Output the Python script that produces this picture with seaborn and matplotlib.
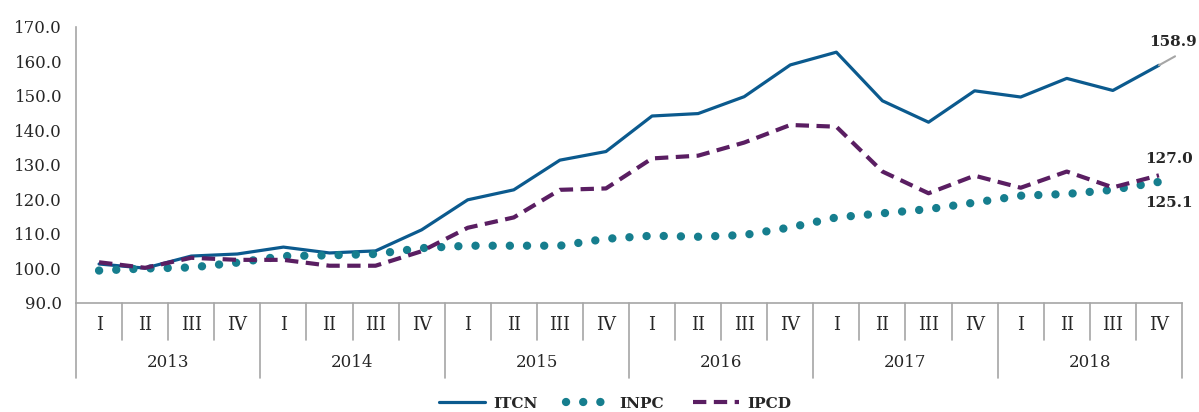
import numpy as np
import matplotlib
matplotlib.use("Agg")
import matplotlib.pyplot as plt
import matplotlib.transforms as mtransforms
import seaborn as sns
import pandas as pd

# datos trimestrales 2013-2018
anios = ["2013", "2014", "2015", "2016", "2017", "2018"]
trimestres = ["I", "II", "III", "IV"]

itcn = [101.3, 100.1, 103.6, 104.2, 106.2, 104.5, 105.1, 111.2,
        119.9, 122.8, 131.4, 133.9, 144.2, 144.9, 149.8, 159.0,
        162.7, 148.6, 142.4, 151.5, 149.7, 155.1, 151.6, 158.9]
inpc = [99.4, 100.0, 100.3, 101.7, 103.6, 103.8, 104.2, 105.9,
        106.6, 106.6, 106.6, 108.6, 109.5, 109.2, 109.7, 111.9,
        114.8, 116.0, 117.2, 119.1, 121.1, 121.6, 122.8, 125.1]
ipcd = [101.8, 100.2, 103.1, 102.5, 102.5, 100.8, 100.8, 105.0,
        111.8, 114.8, 122.8, 123.2, 131.9, 132.7, 136.5, 141.6,
        141.1, 128.1, 121.8, 126.9, 123.4, 128.1, 123.5, 127.0]

n = len(itcn)
df = pd.DataFrame({"pos": np.arange(n), "ITCN": itcn, "INPC": inpc, "IPCD": ipcd})

sns.set_style("white")
plt.rcParams["font.family"] = ["DejaVu Serif"]

c_itcn = "#0B5A8E"
c_inpc = "#167E8E"
c_ipcd = "#5A1E62"
gris = "#A6A6A6"

fig = plt.figure(figsize=(11.99, 4.12), dpi=100)
ax = fig.add_axes([0.0634, 0.2646, 0.9224, 0.6699])

sns.lineplot(data=df, x="pos", y="ITCN", ax=ax, color=c_itcn, lw=2.3, label="ITCN")
sns.lineplot(data=df, x="pos", y="INPC", ax=ax, color=c_inpc, lw=6.0, label="INPC",
             linestyle=(0, (0.01, 2.05)), dash_capstyle="round")
sns.lineplot(data=df, x="pos", y="IPCD", ax=ax, color=c_ipcd, lw=3.0, label="IPCD",
             linestyle=(0, (3.2, 1.8)))

ax.set_xlim(-0.5, n - 0.5)
ax.set_ylim(90, 170)
ax.set_yticks(np.arange(90, 171, 10))
ax.set_yticklabels([f"{v:.1f}" for v in np.arange(90, 171, 10)], fontsize=12)
ax.tick_params(axis="y", length=7, color=gris, width=1, pad=3)
ax.set_xticks([])
ax.set_xlabel("")
ax.set_ylabel("")
for s in ["top", "right"]:
    ax.spines[s].set_visible(False)
for s in ["left", "bottom"]:
    ax.spines[s].set_color(gris)
    ax.spines[s].set_linewidth(1.2)

# eje de categorias en dos niveles
trans = mtransforms.blended_transform_factory(ax.transData, ax.transAxes)
for k in range(n + 1):
    x = k - 0.5
    y0 = -0.272 if k % 4 == 0 else -0.134
    ax.plot([x, x], [0, y0], color=gris, lw=1.2, transform=trans, clip_on=False)
for i in range(n):
    ax.text(i, -0.08, trimestres[i % 4], transform=trans, ha="center", va="center",
            fontsize=13)
for j, a in enumerate(anios):
    ax.text(4 * j + 1.5, -0.214, a, transform=trans, ha="center", va="center",
            fontsize=12)

# etiquetas de los ultimos valores
ax.plot([n - 1, n - 0.65], [itcn[-1], itcn[-1] + 2.6], color=gris, lw=1.5)
ax.text(n - 0.17, 165.6, f"{itcn[-1]:.1f}", fontsize=11, fontweight="bold",
        ha="right", va="center")
ax.text(n - 0.27, 131.7, f"{ipcd[-1]:.1f}", fontsize=11, fontweight="bold",
        ha="right", va="center")
ax.text(n - 0.27, 119.0, f"{inpc[-1]:.1f}", fontsize=11, fontweight="bold",
        ha="right", va="center")

ax.get_legend().remove()
h, l = ax.get_legend_handles_labels()
fig.legend(h, l, loc="center", bbox_to_anchor=(0.513, 0.02), ncol=3, frameon=False,
           prop={"size": 11, "weight": "bold"}, handlelength=3.0, columnspacing=1.9,
           handletextpad=0.5)

fig.savefig("out.png", dpi=100)
